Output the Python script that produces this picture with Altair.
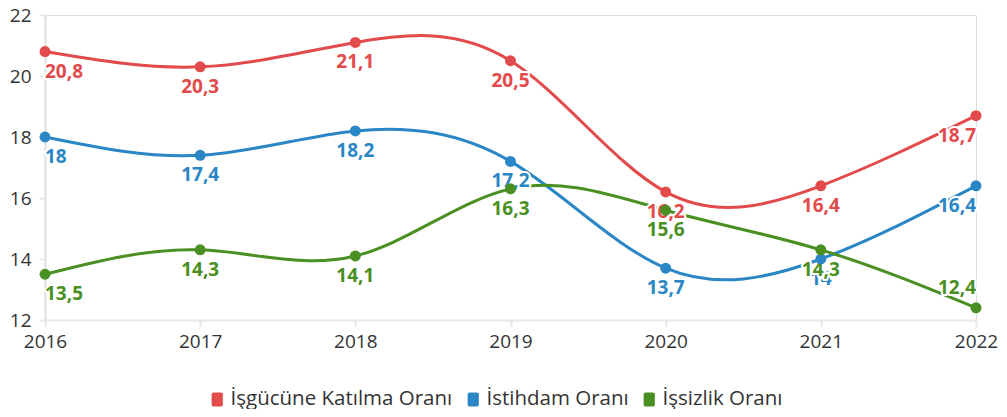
import altair as alt
import pandas as pd

years = [2016, 2017, 2018, 2019, 2020, 2021, 2022]
series_names = ["İşgücüne Katılma Oranı", "İstihdam Oranı", "İşsizlik Oranı"]
katilma = [20.8, 20.3, 21.1, 20.5, 16.2, 16.4, 18.7]
istihdam = [18.0, 17.4, 18.2, 17.2, 13.7, 14.0, 16.4]
issizlik = [13.5, 14.3, 14.1, 16.3, 15.6, 14.3, 12.4]
colors = ["#e24a4b", "#2a86c4", "#4a8f21"]
y_ticks = [12, 14, 16, 18, 20, 22]

rows = []
for name, vals in zip(series_names, [katilma, istihdam, issizlik]):
    for yr, v in zip(years, vals):
        lab = (f"{v:.1f}".replace(".", ",")) if v != int(v) else str(int(v))
        rows.append({"year": yr, "value": v, "series": name, "label": lab})
df = pd.DataFrame(rows)

FONT = "Open Sans"
x = alt.X("year:Q", scale=alt.Scale(domain=[2016, 2022], nice=False, zero=False),
          axis=alt.Axis(values=years, format="d", title=None, grid=False, labelFlush=False,
                        domainColor="#e8e8e8", domainWidth=2, tickColor="#e8e8e8",
                        tickWidth=2, tickSize=7, labelFontSize=19, labelColor="#333333",
                        labelFont=FONT, labelPadding=5))
y = alt.Y("value:Q", scale=alt.Scale(domain=[12, 22], nice=False, zero=False),
          axis=alt.Axis(values=y_ticks, title=None, grid=False,
                        domainColor="#e8e8e8", domainWidth=3, tickColor="#e8e8e8",
                        tickWidth=2, tickSize=6, labelFontSize=19, labelColor="#333333",
                        labelFont=FONT, labelPadding=8))
color_scale = alt.Scale(domain=series_names, range=colors)
col_nolegend = alt.Color("series:N", scale=color_scale, legend=None)

# rounded rectangle (about 11 x 14 px at symbolSize 196)
ROUNDED = ("M-0.8,-0.65C-0.8,-0.9,-0.75,-1,-0.5,-1L0.5,-1C0.75,-1,0.8,-0.9,0.8,-0.65"
           "L0.8,0.65C0.8,0.9,0.75,1,0.5,1L-0.5,1C-0.75,1,-0.8,0.9,-0.8,0.65Z")

base = alt.Chart(df)

legend = alt.Legend(
    orient="none", legendX=162, legendY=374, padding=0,
    title=None, direction="horizontal", symbolType=ROUNDED,
    symbolSize=196, symbolStrokeWidth=0, symbolOpacity=1,
    labelFontSize=20.5, labelFont=FONT, labelColor="#333333",
    labelLimit=400, columnPadding=10, labelOffset=3,
)

layers = []
for i, name in enumerate(series_names):
    sub = base.transform_filter(alt.datum.series == name)
    col = alt.Color("series:N", scale=color_scale, sort=series_names, legend=legend) if i == 0 else col_nolegend
    layers.append(sub.mark_line(interpolate="natural", strokeWidth=3).encode(x=x, y=y, color=col))

below = "!(datum.series == 'İşsizlik Oranı' && datum.year == 2022)"
above = "(datum.series == 'İşsizlik Oranı' && datum.year == 2022)"
specs = [
    ("datum.year == 2016 && " + below, "left", 20),
    ("datum.year > 2016 && datum.year < 2022 && " + below, "center", 20),
    ("datum.year == 2022 && " + below, "right", 20),
    (above, "right", -20),
]
for name in series_names:
    sub = base.transform_filter(alt.datum.series == name)
    for expr, align, dy in specs:
        halo = sub.mark_text(align=align, dy=dy, fontSize=19, fontWeight="bold", font=FONT,
                             stroke="white", strokeWidth=4, strokeJoin="round").encode(
            x=x, y=y, text="label:N", color=col_nolegend).transform_filter(expr)
        txt = sub.mark_text(align=align, dy=dy, fontSize=19, fontWeight="bold", font=FONT).encode(
            x=x, y=y, text="label:N", color=col_nolegend).transform_filter(expr)
        layers += [halo, txt]

for name in series_names:
    sub = base.transform_filter(alt.datum.series == name)
    layers.append(sub.mark_circle(size=120, opacity=1).encode(x=x, y=y, color=col_nolegend))

chart = alt.layer(*layers).properties(
    width=931, height=305,
    autosize=alt.AutoSizeParams(type="none"),
    padding={"left": 37, "top": 7, "right": 23, "bottom": 89},
).configure_view(stroke=None).configure(font=FONT).configure_legend(
    symbolType=ROUNDED, symbolSize=196
)

chart.save("out.html", embed_options={"renderer": "svg", "actions": False})
